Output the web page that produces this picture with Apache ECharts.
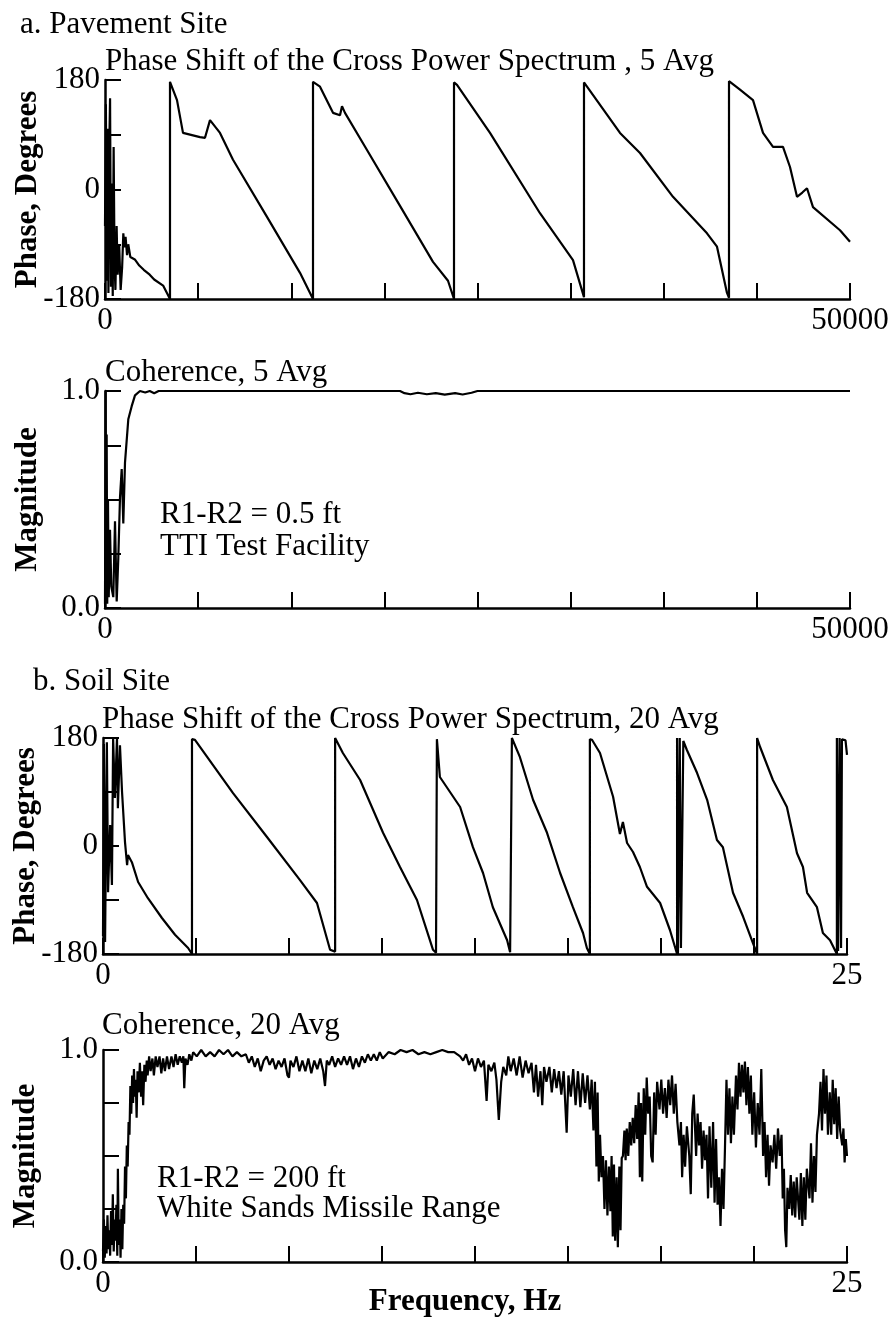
<!DOCTYPE html>
<html>
<head>
<meta charset="utf-8">
<title>Phase and Coherence</title>
<script src="https://cdn.jsdelivr.net/npm/echarts@6/dist/echarts.min.js"></script>
<style>
  html, body { margin: 0; padding: 0; background: #fff; }
  #main { width: 895px; height: 1321px; }
</style>
</head>
<body>
<div id="main"></div>
<script>
// a. pavement site, phase [Hz, degrees]
var pavementPhase = [
    [0, -60], [60, 140], [120, -150], [170, 100], [230, -170], [280, 60], [340, 150], [400, -160],
    [450, 10], [520, -175], [580, 70], [640, -120], [700, -165], [780, -60], [850, -140], [950, -90],
    [1050, -165], [1150, -128], [1230, -72], [1300, -95], [1380, -78], [1480, -108], [1560, -90],
    [1700, -111], [2000, -115], [2300, -125], [2600, -132], [3000, -140], [3300, -148], [3900, -158],
    [4362, -180],
    [4362, 177], [4832, 147], [5235, 93], [6376, 86], [6711, 85], [7047, 114], [7718, 93],
    [8591, 49], [10872, -45], [13087, -137], [13960, -180],
    [13960, 177], [14430, 169], [15302, 126], [15772, 122], [15906, 137], [16107, 126],
    [17584, 65], [19799, -27], [22013, -119], [23020, -150], [23423, -180],
    [23423, 176], [23624, 172], [25839, 93], [29193, -39], [31409, -116], [32147, -177],
    [32147, 176], [34564, 93], [35906, 60], [38121, -12], [40403, -72], [41074, -94],
    [41745, -170], [41879, -178],
    [41879, 178], [42617, 164], [43490, 147], [44161, 93], [44832, 70], [45503, 70],
    [45973, 37], [46443, -12], [46800, -5], [47114, 2], [47516, -29], [49329, -67], [50000, -86]
];

// a. pavement site, coherence [Hz, magnitude]
var pavementCoherence = [
    [0, 0.02], [40, 1.0], [80, 0.1], [112, 0.8], [150, 0.02], [200, 0.5], [250, 0.05],
    [336, 0.36], [420, 0.1], [557, 0.05], [671, 0.4], [785, 0.03], [893, 0.23], [1007, 0.51],
    [1121, 0.64], [1228, 0.39], [1342, 0.67], [1564, 0.87], [1792, 0.93], [2013, 0.98],
    [2349, 1.0], [2700, 0.993], [3000, 1.0], [3300, 0.99], [3600, 1.0], [19800, 1.0],
    [20100, 0.99], [20500, 0.985], [21000, 0.992], [21600, 0.985], [22200, 0.99], [22800, 0.983],
    [23500, 0.99], [24000, 0.984], [24600, 0.992], [25000, 1.0], [50000, 1.0]
];

// b. soil site, phase [Hz, degrees]
var soilPhase = [
    [0, -150], [0.03, 170], [0.07, -160], [0.13, 173], [0.17, -77], [0.24, 35], [0.3, -65],
    [0.34, 180], [0.4, 80], [0.47, 180], [0.5, 63], [0.57, 168], [0.64, 90], [0.74, 6],
    [0.81, -32], [0.84, -15], [0.97, -27], [1.18, -60], [1.51, -87], [1.98, -120], [2.42, -148],
    [2.86, -170], [2.99, -180],
    [2.99, 178], [3.09, 177], [4.37, 88], [5.51, 15], [6.62, -57], [7.19, -95], [7.63, -173], [7.8, -176],
    [7.8, 180], [8.06, 155], [8.64, 110], [9.41, 22], [9.98, -35], [10.55, -90], [11.09, -173], [11.19, -178],
    [11.22, 178], [11.32, 115], [12.0, 65], [12.43, -2], [12.77, -45], [13.1, -102], [13.58, -157],
    [13.68, -177], [13.74, -180],
    [13.74, 180], [14.01, 148], [14.45, 77], [14.92, 22], [15.36, -45], [15.79, -102], [16.13, -145],
    [16.26, -170], [16.36, -180],
    [16.36, 178], [16.43, 177], [16.7, 155], [17.14, 82], [17.37, 20], [17.47, 40], [17.61, 5],
    [17.81, -10], [18.04, -35], [18.28, -68], [18.72, -95], [19.05, -140], [19.29, -180],
    [19.29, 180], [19.32, -180], [19.38, 180], [19.42, -170], [19.5, 175],
    [19.62, 160], [19.96, 122], [20.3, 77], [20.63, 10], [20.83, -2], [21.17, -78], [21.51, -118],
    [21.84, -162], [21.98, -180],
    [21.98, 180], [22.08, 165], [22.51, 110], [22.98, 65], [23.32, -12], [23.52, -35], [23.66, -78],
    [23.99, -102], [24.19, -145], [24.43, -157], [24.66, -180],
    [24.66, 180], [24.7, -175], [24.75, 180], [24.8, -170], [24.83, 178], [24.95, 176], [25, 152]
];

// b. soil site, coherence [Hz, magnitude]
var soilCoherence = [
    [0, 0.05], [0.03, 0.2], [0.06, 0.02], [0.09, 0.17], [0.12, 0.04], [0.15, 0.22], [0.18, 0.06],
    [0.21, 0.15], [0.24, 0.03], [0.27, 0.24], [0.3, 0.08], [0.33, 0.32], [0.36, 0.05], [0.39, 0.2],
    [0.42, 0.1], [0.45, 0.27], [0.48, 0.03], [0.5, 0.44], [0.53, 0.08], [0.56, 0.2], [0.59, 0.02],
    [0.62, 0.25], [0.65, 0.06], [0.68, 0.27], [0.71, 0.18], [0.74, 0.45], [0.77, 0.3], [0.8, 0.55],
    [0.83, 0.45], [0.86, 0.66],
    [0.89, 0.6], [0.92, 0.83], [0.95, 0.7], [0.98, 0.88], [1.01, 0.75], [1.04, 0.91], [1.07, 0.78],
    [1.1, 0.86], [1.13, 0.68], [1.16, 0.9],
    [1.2, 0.8], [1.24, 0.94], [1.28, 0.78], [1.31, 0.9], [1.35, 0.74], [1.39, 0.93], [1.43, 0.85],
    [1.47, 0.95], [1.5, 0.88],
    [1.55, 0.97], [1.6, 0.9], [1.66, 0.96], [1.71, 0.88], [1.77, 0.97], [1.83, 0.92], [1.9, 0.97],
    [1.96, 0.89], [2.02, 0.96], [2.08, 0.9], [2.15, 0.97], [2.22, 0.91], [2.3, 0.97], [2.37, 0.92],
    [2.44, 0.98], [2.51, 0.93], [2.58, 0.97], [2.65, 0.94], [2.7, 0.97], [2.73, 0.82], [2.77, 0.96],
    [2.84, 0.93], [2.9, 0.98], [2.97, 0.95], [3.03, 0.99],
    [3.15, 0.97], [3.3, 1.0], [3.45, 0.97], [3.6, 0.99], [3.75, 0.97], [3.9, 1.0], [4.05, 0.98],
    [4.2, 1.0], [4.35, 0.97], [4.5, 0.99], [4.65, 0.97],
    [4.8, 0.98], [4.9, 0.94], [5.0, 0.97], [5.1, 0.92], [5.2, 0.96], [5.3, 0.9], [5.4, 0.95],
    [5.5, 0.97], [5.6, 0.93], [5.7, 0.96], [5.8, 0.91], [5.9, 0.95], [6.0, 0.92], [6.1, 0.96],
    [6.2, 0.88], [6.25, 0.87], [6.3, 0.95], [6.4, 0.92], [6.5, 0.97], [6.6, 0.9], [6.7, 0.95],
    [6.8, 0.9], [6.9, 0.96], [7.0, 0.89], [7.1, 0.95], [7.2, 0.91], [7.3, 0.96], [7.4, 0.9],
    [7.46, 0.83], [7.52, 0.95], [7.6, 0.93], [7.7, 0.97], [7.8, 0.92], [7.9, 0.96], [8.0, 0.93],
    [8.1, 0.97],
    [8.2, 0.93], [8.3, 0.97], [8.4, 0.91], [8.5, 0.96], [8.6, 0.92], [8.7, 0.97], [8.8, 0.94],
    [8.9, 0.98], [9.0, 0.95], [9.1, 0.98], [9.2, 0.95], [9.3, 0.99], [9.4, 0.96],
    [9.6, 0.99], [9.8, 0.98], [10.0, 1.0], [10.2, 0.99], [10.4, 1.0], [10.6, 0.98], [10.8, 0.99],
    [11.0, 0.98], [11.2, 0.99], [11.4, 1.0], [11.6, 0.99], [11.8, 0.99], [12.0, 0.97],
    [12.1, 0.95], [12.2, 0.98], [12.3, 0.93], [12.4, 0.96], [12.5, 0.9], [12.6, 0.96], [12.7, 0.92],
    [12.8, 0.95], [12.89, 0.76], [12.95, 0.93], [13.05, 0.9], [13.15, 0.94], [13.22, 0.86],
    [13.3, 0.67], [13.38, 0.85], [13.45, 0.92], [13.55, 0.88],
    [13.62, 0.97], [13.7, 0.9], [13.8, 0.96], [13.9, 0.88], [14.0, 0.97], [14.1, 0.87], [14.2, 0.95],
    [14.3, 0.89], [14.4, 0.94],
    [14.48, 0.8], [14.55, 0.93], [14.62, 0.78], [14.7, 0.9], [14.76, 0.74], [14.82, 0.92],
    [14.9, 0.85], [15.0, 0.92], [15.08, 0.8], [15.16, 0.91], [15.24, 0.82], [15.32, 0.9], [15.4, 0.79],
    [15.48, 0.9], [15.58, 0.61], [15.64, 0.88],
    [15.72, 0.78], [15.8, 0.91], [15.88, 0.74], [15.96, 0.9], [16.04, 0.73], [16.12, 0.89],
    [16.2, 0.75], [16.28, 0.88], [16.36, 0.72], [16.42, 0.86], [16.48, 0.62], [16.53, 0.85],
    [16.58, 0.45], [16.62, 0.8], [16.66, 0.38], [16.7, 0.6], [16.75, 0.4],
    [16.8, 0.5], [16.85, 0.25], [16.9, 0.48], [16.95, 0.22], [17.0, 0.45], [17.05, 0.24], [17.09, 0.5],
    [17.13, 0.12], [17.17, 0.46], [17.21, 0.1], [17.26, 0.4], [17.3, 0.07], [17.35, 0.45],
    [17.39, 0.15], [17.43, 0.49],
    [17.47, 0.5], [17.52, 0.62], [17.56, 0.48], [17.6, 0.63], [17.65, 0.5],
    [17.7, 0.66], [17.75, 0.55], [17.8, 0.68], [17.85, 0.56], [17.9, 0.74], [17.95, 0.58],
    [18.0, 0.8], [18.04, 0.4], [18.08, 0.75], [18.12, 0.38], [18.17, 0.82], [18.22, 0.6],
    [18.27, 0.87], [18.32, 0.7],
    [18.37, 0.78], [18.42, 0.5], [18.47, 0.47], [18.52, 0.8], [18.57, 0.6], [18.62, 0.85],
    [18.7, 0.72], [18.76, 0.86], [18.82, 0.7], [18.88, 0.82], [18.94, 0.68], [19.0, 0.86],
    [19.06, 0.74], [19.12, 0.88], [19.18, 0.7], [19.24, 0.84], [19.3, 0.66],
    [19.37, 0.55], [19.42, 0.66], [19.46, 0.4], [19.51, 0.6], [19.56, 0.45], [19.62, 0.64],
    [19.7, 0.5], [19.75, 0.32], [19.8, 0.7], [19.85, 0.79],
    [19.93, 0.5], [19.98, 0.7], [20.03, 0.55], [20.08, 0.66], [20.13, 0.44], [20.18, 0.62], [20.23, 0.48],
    [20.28, 0.6], [20.33, 0.3], [20.38, 0.64], [20.44, 0.35], [20.5, 0.66], [20.55, 0.28],
    [20.6, 0.58], [20.65, 0.27],
    [20.7, 0.4], [20.75, 0.17], [20.8, 0.44], [20.85, 0.25], [20.9, 0.54],
    [20.95, 0.86], [21.0, 0.6], [21.05, 0.82], [21.1, 0.56], [21.15, 0.78], [21.2, 0.6],
    [21.27, 0.88], [21.32, 0.72], [21.37, 0.94], [21.42, 0.78], [21.47, 0.93], [21.52, 0.8],
    [21.57, 0.945], [21.62, 0.74], [21.67, 0.92], [21.72, 0.7], [21.77, 0.88],
    [21.82, 0.6], [21.88, 0.8], [21.94, 0.54], [22.0, 0.75], [22.06, 0.6], [22.12, 0.91],
    [22.18, 0.5], [22.23, 0.66], [22.28, 0.4], [22.33, 0.6], [22.38, 0.36], [22.43, 0.55],
    [22.5, 0.47], [22.56, 0.6], [22.62, 0.44], [22.68, 0.63], [22.74, 0.5], [22.8, 0.6],
    [22.84, 0.3], [22.88, 0.44], [22.92, 0.15], [22.96, 0.07], [23.0, 0.35],
    [23.06, 0.25], [23.11, 0.41], [23.16, 0.22], [23.21, 0.38], [23.26, 0.21], [23.31, 0.4],
    [23.4, 0.2], [23.45, 0.42], [23.5, 0.17], [23.55, 0.4], [23.6, 0.2], [23.65, 0.44],
    [23.74, 0.3], [23.79, 0.56], [23.84, 0.28], [23.89, 0.5], [23.94, 0.33], [23.99, 0.6],
    [24.06, 0.7], [24.11, 0.85], [24.16, 0.62], [24.21, 0.91], [24.26, 0.7], [24.31, 0.88], [24.36, 0.6],
    [24.42, 0.8], [24.47, 0.6], [24.52, 0.86], [24.57, 0.65], [24.62, 0.82], [24.67, 0.58],
    [24.72, 0.78], [24.77, 0.62],
    [24.84, 0.55], [24.88, 0.63], [24.92, 0.47], [24.96, 0.58], [25, 0.5]
];

// tick labels that are shown (others stay blank)
var pavementFreqLabels = [0, 50000];
var soilFreqLabels = [0, 25];
var phaseLabels = [180, 0, -180];
var magnitudeLabels = [1.0, 0.0];

var FONT = 'Liberation Serif';
var FS = 31;
var myChart = echarts.init(document.getElementById('main'));

function xAxis(idx, max, shown, name) {
    return {
        gridIndex: idx,
        type: 'value',
        min: 0,
        max: max,
        interval: max / 8,
        splitLine: { show: false },
        axisLine: { onZero: false, lineStyle: { color: '#000', width: 2.5 } },
        axisTick: { inside: true, length: 16, lineStyle: { color: '#000', width: 2 } },
        axisLabel: {
            margin: 6,
            color: '#000',
            fontFamily: FONT,
            fontSize: FS,
            formatter: function (v) { return shown.indexOf(v) > -1 ? String(v) : ''; }
        },
        name: name || '',
        nameLocation: 'middle',
        nameGap: 24,
        nameMoveOverlap: false,
        nameTextStyle: { color: '#000', fontFamily: FONT, fontSize: FS, fontWeight: 'bold', padding: [0, 20, 0, 0] }
    };
}

function yAxis(idx, min, max, interval, shown, digits, name) {
    return {
        gridIndex: idx,
        type: 'value',
        min: min,
        max: max,
        interval: interval,
        splitLine: { show: false },
        axisLine: { lineStyle: { color: '#000', width: 2.5 } },
        axisTick: { inside: true, length: 16, lineStyle: { color: '#000', width: 2 } },
        axisLabel: {
            margin: 5,
            color: '#000',
            fontFamily: FONT,
            fontSize: FS,
            formatter: function (v) {
                for (var i = 0; i < shown.length; i++) {
                    if (Math.abs(shown[i] - v) < 1e-9) return v.toFixed(digits);
                }
                return '';
            }
        },
        name: name,
        nameLocation: 'middle',
        nameGap: 62,
        nameMoveOverlap: false,
        nameTextStyle: { color: '#000', fontFamily: FONT, fontSize: FS, fontWeight: 'bold' }
    };
}

function lineSeries(idx, data, w) {
    return {
        type: 'line',
        xAxisIndex: idx,
        yAxisIndex: idx,
        data: data,
        showSymbol: false,
        clip: false,
        lineStyle: { color: '#000', width: w || 2 }
    };
}

function label(text, left, top, lh) {
    return {
        text: text,
        left: left,
        top: top,
        padding: 0,
        textStyle: { color: '#000', fontFamily: FONT, fontSize: FS, fontWeight: 'normal', lineHeight: lh || 34 }
    };
}

// fixed plot boxes, no auto shrinking for labels
function grid(left, width, top, height) {
    return { left: left, width: width, top: top, height: height, containLabel: false, outerBoundsMode: 'none' };
}

var option = {
    backgroundColor: '#fff',
    animation: false,
    title: [
        label('a. Pavement Site', 20, 8),
        label('Phase Shift of the Cross Power Spectrum , 5 Avg', 105, 45),
        label('Coherence, 5 Avg', 105, 356),
        label('R1-R2 = 0.5 ft\nTTI Test Facility', 160, 499, 32),
        label('b. Soil Site', 33, 665),
        label('Phase Shift of the Cross Power Spectrum, 20 Avg', 102, 703),
        label('Coherence, 20 Avg', 102, 1009),
        label('R1-R2 = 200 ft\nWhite Sands Missile Range', 157, 1164, 30)
    ],
    grid: [
        grid(105, 745, 80, 219),
        grid(105, 745, 391, 217),
        grid(103, 744, 738, 216),
        grid(103, 744, 1050, 212)
    ],
    xAxis: [
        xAxis(0, 50000, pavementFreqLabels),
        xAxis(1, 50000, pavementFreqLabels),
        xAxis(2, 25, soilFreqLabels),
        xAxis(3, 25, soilFreqLabels, 'Frequency, Hz')
    ],
    yAxis: [
        yAxis(0, -180, 180, 90, phaseLabels, 0, 'Phase, Degrees'),
        yAxis(1, 0, 1, 0.25, magnitudeLabels, 1, 'Magnitude'),
        yAxis(2, -180, 180, 90, phaseLabels, 0, 'Phase, Degrees'),
        yAxis(3, 0, 1, 0.25, magnitudeLabels, 1, 'Magnitude')
    ],
    series: [
        lineSeries(0, pavementPhase, 2.2),
        lineSeries(1, pavementCoherence, 2.2),
        lineSeries(2, soilPhase, 2.2),
        lineSeries(3, soilCoherence, 2.2)
    ]
};

myChart.setOption(option);
</script>
</body>
</html>
